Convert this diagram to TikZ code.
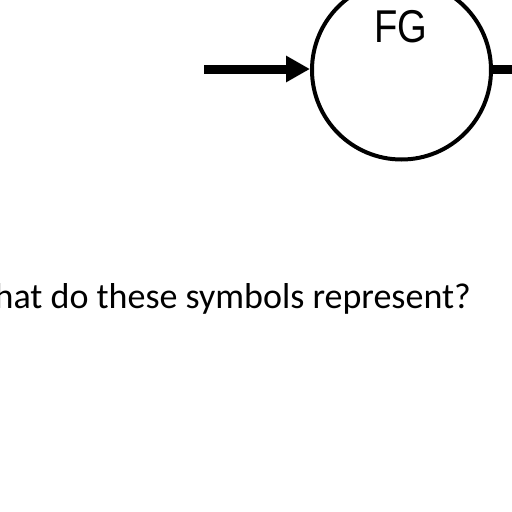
\documentclass[tikz,border=0pt]{standalone}
\usepackage{fontspec}
\setmainfont{Carlito}
\newfontfamily\arialfont{Liberation Sans}
\usetikzlibrary{arrows.meta}
\tikzset{
  ring/.style={circle, draw=black, line width=4pt, minimum size=179pt, inner sep=0pt},
  flow/.style={line width=9pt, black},
}
\begin{document}
\begin{tikzpicture}[x=1pt,y=1pt]
\useasboundingbox (0,0) rectangle (512,-512);
\node[ring] (fg) at (401.5,-70) {};
\node[font=\arialfont\fontsize{46}{46}\selectfont, xscale=0.83, anchor=base, inner sep=0pt] (lbl) at (401,-42.5) {FG};
\coordinate (src) at (204,-69);
\coordinate (sink) at (514,-69);
\draw[flow, -{Triangle[length=24pt,width=25pt]}] (src) -- (src -| fg.west);
\draw[flow] (fg.east |- sink) -- (sink);
\node[font=\fontsize{36}{36}\selectfont, anchor=base east, inner sep=0pt] (q) at (471,-308) {What do these symbols represent?};
\end{tikzpicture}
\end{document}
